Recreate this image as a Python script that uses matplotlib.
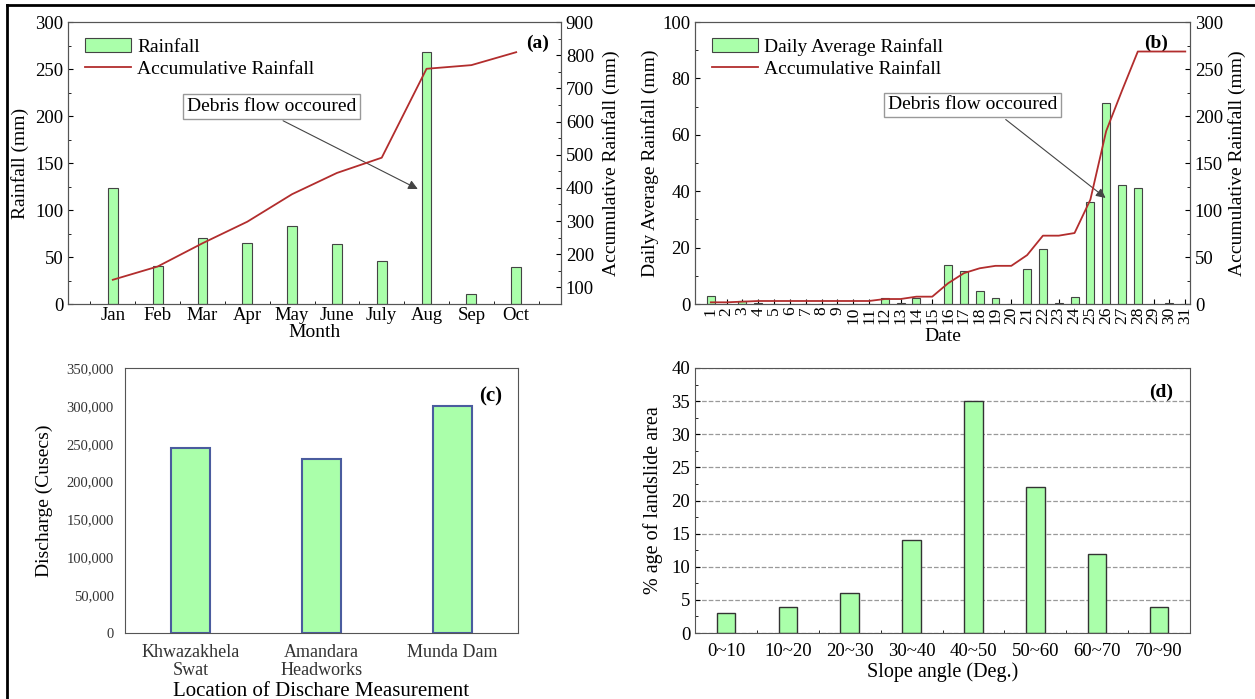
import numpy as np
import matplotlib.pyplot as plt
from matplotlib.ticker import MultipleLocator, FuncFormatter

plt.rcParams['font.family'] = ['Liberation Serif', 'DejaVu Serif']
plt.rcParams['axes.edgecolor'] = '#555555'
plt.rcParams['xtick.direction'] = 'in'
plt.rcParams['ytick.direction'] = 'in'

# (a) monthly rainfall
months = ['Jan', 'Feb', 'Mar', 'Apr', 'May', 'June', 'July', 'Aug', 'Sep', 'Oct']
rain_month = [123, 40, 70, 65, 83, 64, 46, 268, 11, 39]
cum_month = [123, 163, 233, 298, 381, 445, 491, 759, 770, 809]

# (b) daily rainfall
days = list(range(1, 32))
rain_day = [3, 0, 1, 0.5, 0, 0, 0, 0, 0, 0, 0, 2, 0.3, 2, 0,
            13.8, 11.8, 4.7, 2.2, 0, 12.5, 19.5, 0.3, 2.5, 36.1, 71.4, 42.3, 41.2, 0, 0.3, 0]
cum_day = [1.8, 1.8, 2.5, 3.2, 3.2, 3.2, 3.2, 3.2, 3.2, 3.2, 3.2, 5.3, 5.3, 7.8, 7.8,
           22, 32.8, 38, 40.6, 40.6, 52, 72.7, 72.7, 75.5, 111, 184, 227, 268.6, 268.6, 268.6, 268.6]

# (c) discharge
stations = ['Khwazakhela\nSwat', 'Amandara\nHeadworks', 'Munda Dam']
discharge = [245000, 230000, 300000]

# (d) slope angle
slopes = ['0~10', '10~20', '20~30', '30~40', '40~50', '50~60', '60~70', '70~90']
slope_pct = [3, 4, 6, 14, 35, 22, 12, 4]

green = '#aaffaa'
red = '#b22d2d'
W, H = 1255, 699
TS = 13.5   # tick labels
LS = 14     # axis labels

fig = plt.figure(figsize=(12.55, 6.99), dpi=100)


def box(x0, y0, x1, y1):
    return [x0 / W, 1 - y1 / H, (x1 - x0) / W, (y1 - y0) / H]


# ---------------- (a) ----------------
ax1 = fig.add_axes(box(68, 22, 561, 304))
xa = np.arange(1, len(months) + 1)
ax1.bar(xa, rain_month, width=0.22, color=green, edgecolor='#444444', lw=0.8, label='Rainfall', zorder=2)
ax1.set_xlim(0, 11)
ax1.set_ylim(0, 300)
ax1.set_xticks(xa)
ax1.set_xticklabels(months)
ax1.xaxis.set_minor_locator(MultipleLocator(0.5))
ax1.yaxis.set_major_locator(MultipleLocator(50))
ax1.yaxis.set_minor_locator(MultipleLocator(25))
ax1.tick_params(labelsize=TS)
ax1.tick_params(axis='x', pad=2)
ax1.set_xlabel('Month', fontsize=LS, labelpad=0)
ax1.set_ylabel('Rainfall (mm)', fontsize=LS, labelpad=4)
ax1b = ax1.twinx()
ax1b.plot(xa, cum_month, color=red, lw=1.3, label='Accumulative Rainfall')
ax1b.set_ylim(50, 900)
ax1b.yaxis.set_major_locator(MultipleLocator(100))
ax1b.yaxis.set_minor_locator(MultipleLocator(50))
ax1b.tick_params(labelsize=TS, direction='in')
ax1b.tick_params(which='minor', direction='in')
ax1b.set_ylabel('Accumulative Rainfall (mm)', fontsize=LS, labelpad=6)
h1, l1 = ax1.get_legend_handles_labels()
h2, l2 = ax1b.get_legend_handles_labels()
ax1.legend(h1 + h2, l1 + l2, loc='upper left', bbox_to_anchor=(0.01, 0.985), frameon=False,
           fontsize=14, handlelength=2.4, handletextpad=0.3, borderaxespad=0.2, labelspacing=0.25)
ax1.text(0.975, 0.955, '(a)', transform=ax1.transAxes, ha='right', va='top', fontsize=14, fontweight='bold')
ax1.annotate('Debris flow occoured', xy=(7.86, 121), xytext=(4.55, 210), fontsize=14,
             ha='center', va='center',
             bbox=dict(boxstyle='square,pad=0.2', fc='white', ec='#999999', lw=1),
             arrowprops=dict(arrowstyle='-|>', color='#444444', lw=0.8, mutation_scale=14, relpos=(0.5, 0)),
             zorder=5)

# ---------------- (b) ----------------
ax2 = fig.add_axes(box(695, 22, 1190, 304))
ax2.bar(days, rain_day, width=0.5, color=green, edgecolor='#444444', lw=0.8,
        label='Daily Average Rainfall', zorder=2)
ax2.set_xlim(0, 31.3)
ax2.set_ylim(0, 100)
ax2.set_xticks(days)
ax2.set_xticklabels([str(d) for d in days], rotation=90, fontsize=12.5)
ax2.yaxis.set_major_locator(MultipleLocator(20))
ax2.yaxis.set_minor_locator(MultipleLocator(10))
ax2.tick_params(axis='y', labelsize=TS)
ax2.tick_params(axis='x', pad=2)
ax2.set_xlabel('Date', fontsize=LS, labelpad=3)
ax2.set_ylabel('Daily Average Rainfall (mm)', fontsize=LS, labelpad=2)
ax2b = ax2.twinx()
ax2b.plot(days, cum_day, color=red, lw=1.3, label='Accumulative Rainfall')
ax2b.set_ylim(0, 300)
ax2b.yaxis.set_major_locator(MultipleLocator(50))
ax2b.yaxis.set_minor_locator(MultipleLocator(25))
ax2b.tick_params(labelsize=TS, direction='in')
ax2b.tick_params(which='minor', direction='in')
ax2b.set_ylabel('Accumulative Rainfall (mm)', fontsize=LS, labelpad=4)
h1, l1 = ax2.get_legend_handles_labels()
h2, l2 = ax2b.get_legend_handles_labels()
ax2.legend(h1 + h2, l1 + l2, loc='upper left', bbox_to_anchor=(0.01, 0.985), frameon=False,
           fontsize=14, handlelength=2.4, handletextpad=0.3, borderaxespad=0.2, labelspacing=0.25)
ax2.text(0.955, 0.955, '(b)', transform=ax2.transAxes, ha='right', va='top', fontsize=14, fontweight='bold')
ax2.annotate('Debris flow occoured', xy=(26.1, 37), xytext=(17.55, 70.6), fontsize=14,
             ha='center', va='center',
             bbox=dict(boxstyle='square,pad=0.2', fc='white', ec='#999999', lw=1),
             arrowprops=dict(arrowstyle='-|>', color='#444444', lw=0.8, mutation_scale=14, relpos=(0.65, 0)),
             zorder=5)

# ---------------- (c) ----------------
ax3 = fig.add_axes(box(125, 368, 518, 633))
ax3.bar(range(len(stations)), discharge, width=0.3, color=green, edgecolor='#4a5c9e', lw=1.5)
ax3.set_xlim(-0.5, 2.5)
ax3.set_ylim(0, 350000)
ax3.set_xticks(range(len(stations)))
ax3.set_xticklabels(stations, fontsize=13, linespacing=1.05)
ax3.yaxis.set_major_locator(MultipleLocator(50000))
ax3.yaxis.set_major_formatter(FuncFormatter(lambda v, p: f'{int(v):,}'))
ax3.tick_params(length=0, colors='#333333', pad=8)
ax3.tick_params(axis='y', labelsize=10.5, pad=8)
ax3.set_xlabel('Location of Dischare Measurement', fontsize=15, labelpad=2)
ax3.set_ylabel('Discharge (Cusecs)', fontsize=14, labelpad=10)
ax3.text(0.96, 0.93, '(c)', transform=ax3.transAxes, ha='right', va='top', fontsize=15, fontweight='bold')

# ---------------- (d) ----------------
ax4 = fig.add_axes(box(695, 368, 1190, 633))
ax4.bar(range(len(slopes)), slope_pct, width=0.3, color=green, edgecolor='#333333', lw=1.0, zorder=2)
ax4.set_xlim(-0.5, 7.5)
ax4.set_ylim(0, 40)
ax4.set_xticks(range(len(slopes)))
ax4.set_xticklabels(slopes)
ax4.xaxis.set_minor_locator(MultipleLocator(0.5))
ax4.yaxis.set_major_locator(MultipleLocator(5))
ax4.yaxis.set_minor_locator(MultipleLocator(2.5))
ax4.grid(axis='y', ls='--', color='#999999', lw=0.9, zorder=0)
ax4.tick_params(labelsize=TS, zorder=3)
ax4.tick_params(axis='x', pad=7)
ax4.set_xlabel('Slope angle (Deg.)', fontsize=14.5, labelpad=2)
ax4.set_ylabel('% age of landslide area', fontsize=14.5, labelpad=6)
ax4.text(0.965, 0.94, '(d)', transform=ax4.transAxes, ha='right', va='top', fontsize=14, fontweight='bold')

# outer frame (top and left edges)
fig.add_artist(plt.Line2D([7 / W, 1], [1 - 5 / H, 1 - 5 / H], color='black', lw=2))
fig.add_artist(plt.Line2D([7 / W, 7 / W], [0, 1 - 5 / H], color='black', lw=2))

fig.savefig('out.png', dpi=100)
